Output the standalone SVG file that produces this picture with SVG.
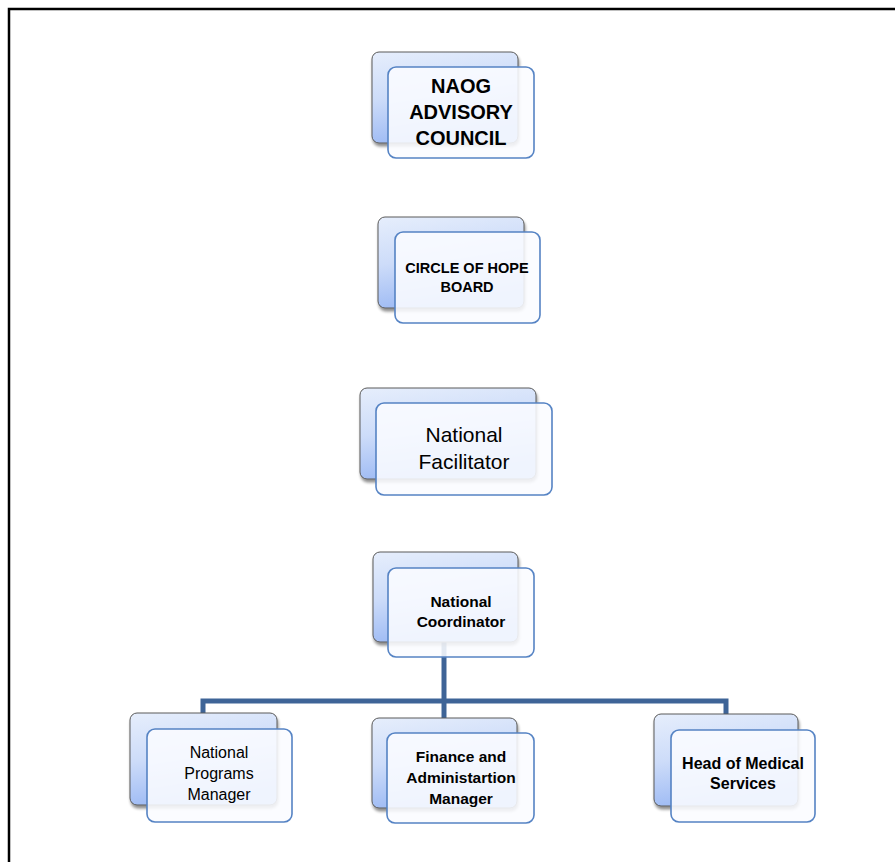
<svg xmlns="http://www.w3.org/2000/svg" width="895" height="862" viewBox="0 0 895 862">
<style>
  .back{fill:url(#bg);stroke:#5a5a5a;stroke-width:1;filter:url(#sh)}
  .front{fill:#fbfcff;fill-opacity:0.88;stroke:#5583c4;stroke-width:1.6}
  .t{font-family:"Liberation Sans",Arial,sans-serif;fill:#000;text-anchor:middle}
  .b{font-weight:bold}
  .conn{fill:none;stroke:#3e6497;stroke-width:5}
</style>
<defs>
  <linearGradient id="bg" x1="0" y1="0" x2="0.25" y2="1">
    <stop offset="0" stop-color="#e6eefc"/>
    <stop offset="0.5" stop-color="#cddcf9"/>
    <stop offset="1" stop-color="#9dbaf4"/>
  </linearGradient>
  <filter id="sh" x="-10%" y="-10%" width="125%" height="130%">
    <feGaussianBlur in="SourceAlpha" stdDeviation="1.5"/>
    <feOffset dx="1" dy="3" result="o"/>
    <feComponentTransfer><feFuncA type="linear" slope="0.45"/></feComponentTransfer>
    <feMerge><feMergeNode/><feMergeNode in="SourceGraphic"/></feMerge>
  </filter>
</defs>
<g id="frame" stroke="#000" stroke-width="2.5" fill="none">
  <path d="M9 862 V9 H895"/>
</g>
<g id="connectors">
  <path class="conn" d="M444 640 V720"/>
  <path class="conn" d="M203 713 V701 H726 V714"/>
</g>
<g id="naog">
  <rect class="back" x="372" y="52" width="146" height="91" rx="7"/>
  <rect class="front" x="388" y="67" width="146" height="91" rx="8"/>
  <text class="t b" font-size="20" x="461" y="93">NAOG</text>
  <text class="t b" font-size="20" x="461" y="119">ADVISORY</text>
  <text class="t b" font-size="20" x="461" y="145">COUNCIL</text>
</g>
<g id="board">
  <rect class="back" x="378" y="217" width="146" height="91" rx="7"/>
  <rect class="front" x="395" y="232" width="145" height="91" rx="8"/>
  <text class="t b" font-size="14.5" x="467" y="273">CIRCLE OF HOPE</text>
  <text class="t b" font-size="14.5" x="467" y="292">BOARD</text>
</g>
<g id="facilitator">
  <rect class="back" x="360" y="388" width="176" height="91" rx="7"/>
  <rect class="front" x="376" y="403" width="176" height="92" rx="8"/>
  <text class="t" font-size="21" x="464" y="442">National</text>
  <text class="t" font-size="21" x="464" y="469">Facilitator</text>
</g>
<g id="coordinator">
  <rect class="back" x="373" y="552" width="145" height="90" rx="7"/>
  <rect class="front" x="388" y="568" width="146" height="89" rx="8"/>
  <text class="t b" font-size="15.5" x="461" y="607">National</text>
  <text class="t b" font-size="15.5" x="461" y="627">Coordinator</text>
</g>
<g id="programs">
  <rect class="back" x="130" y="713" width="147" height="92" rx="7"/>
  <rect class="front" x="147" y="729" width="145" height="93" rx="8"/>
  <text class="t" font-size="16" x="219" y="758">National</text>
  <text class="t" font-size="16" x="219" y="779">Programs</text>
  <text class="t" font-size="16" x="219" y="800">Manager</text>
</g>
<g id="finance">
  <rect class="back" x="372" y="718" width="145" height="90" rx="7"/>
  <rect class="front" x="387" y="733" width="147" height="90" rx="8"/>
  <text class="t b" font-size="15.5" x="461" y="762">Finance and</text>
  <text class="t b" font-size="15.5" x="461" y="783">Administartion</text>
  <text class="t b" font-size="15.5" x="461" y="804">Manager</text>
</g>
<g id="medical">
  <rect class="back" x="654" y="714" width="144" height="92" rx="7"/>
  <rect class="front" x="671" y="730" width="144" height="92" rx="8"/>
  <text class="t b" font-size="16" x="743" y="769">Head of Medical</text>
  <text class="t b" font-size="16" x="743" y="789">Services</text>
</g>
</svg>
